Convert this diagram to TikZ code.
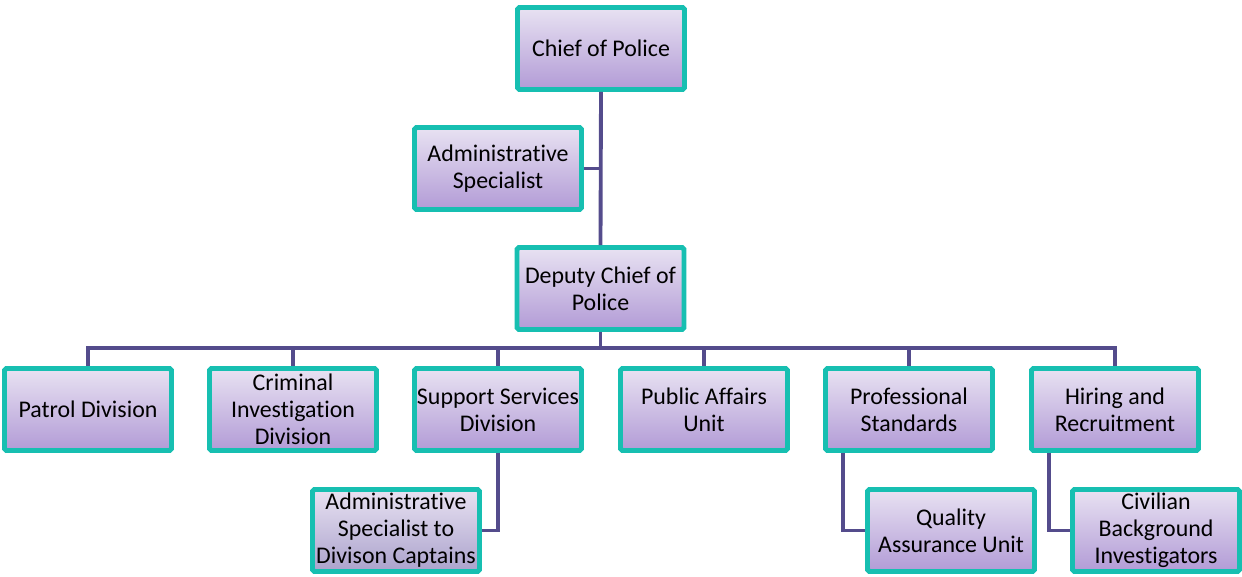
\documentclass[tikz,border=0pt]{standalone}
\usepackage{fontspec}
\setmainfont{Carlito}[Ligatures={NoCommon}]
\usetikzlibrary{calc}

\definecolor{boxteal}{HTML}{17BFB1}
\definecolor{boxtop}{HTML}{E8E2F2}
\definecolor{boxbot}{HTML}{B29BD6}
\definecolor{greybot}{HTML}{ABA2CC}
\definecolor{linkcol}{HTML}{544C8C}

\begin{document}
\begin{tikzpicture}[x=0.02cm, y=-0.02cm,
  unit/.style={draw=boxteal, line width=2.8pt, rounded corners=1pt,
    top color=boxtop, bottom color=boxbot, minimum width=3.34cm,
    minimum height=1.64cm, align=center, inner sep=1pt,
    font=\fontsize{13.6}{15.4}\selectfont},
  greyunit/.style={unit, bottom color=greybot},
  link/.style={draw=linkcol, line width=2.2pt}]

  \useasboundingbox (0,0) rectangle (1242,577);

  % Top of the chart
  \node[unit] (chief)  at (601,48.5)  {Chief of Police};
  \node[unit] (admin)  at (498,168.5) {Administrative\\Specialist};
  \node[unit] (deputy) at (600.5,288.5) {Deputy Chief of\\Police};

  % Divisions
  \node[unit] (patrol)   at (88,409.5)  {Patrol Division};
  \node[unit] (criminal) at (293,409.5) {Criminal\\Investigation\\Division};
  \node[unit] (support)  at (498,409.5) {Support Services\\Division};
  \node[unit] (public)   at (704,409.5) {Public Affairs\\Unit};
  \node[unit] (profstd)  at (909,409.5) {Professional\\Standards};
  \node[unit] (hiring)   at (1115,409.5) {Hiring and\\Recruitment};

  % Sub units
  \node[greyunit] (captains) at (396,530.5)  {Administrative\\Specialist to\\Divison Captains};
  \node[unit]     (quality)  at (951,530.5)  {Quality\\Assurance Unit};
  \node[unit]     (civilian) at (1156,530.5) {Civilian\\Background\\Investigators};

  % Connectors
  \coordinate (bus) at (600.5,348);
  \draw[link] (chief.south) -- (deputy.north);
  \draw[link] (admin.east) -- (admin.east -| chief.south);
  \draw[link] (deputy.south) -- (bus);
  \foreach \n in {patrol, criminal, support, public, profstd, hiring}
    \draw[link] (bus) -| (\n.north);
  \draw[link] (support.south) |- (captains.east);
  \draw[link] ($(profstd.south west)+(20,0)$) |- (quality.west);
  \draw[link] ($(hiring.south west)+(20,0)$) |- (civilian.west);

\end{tikzpicture}
\end{document}
